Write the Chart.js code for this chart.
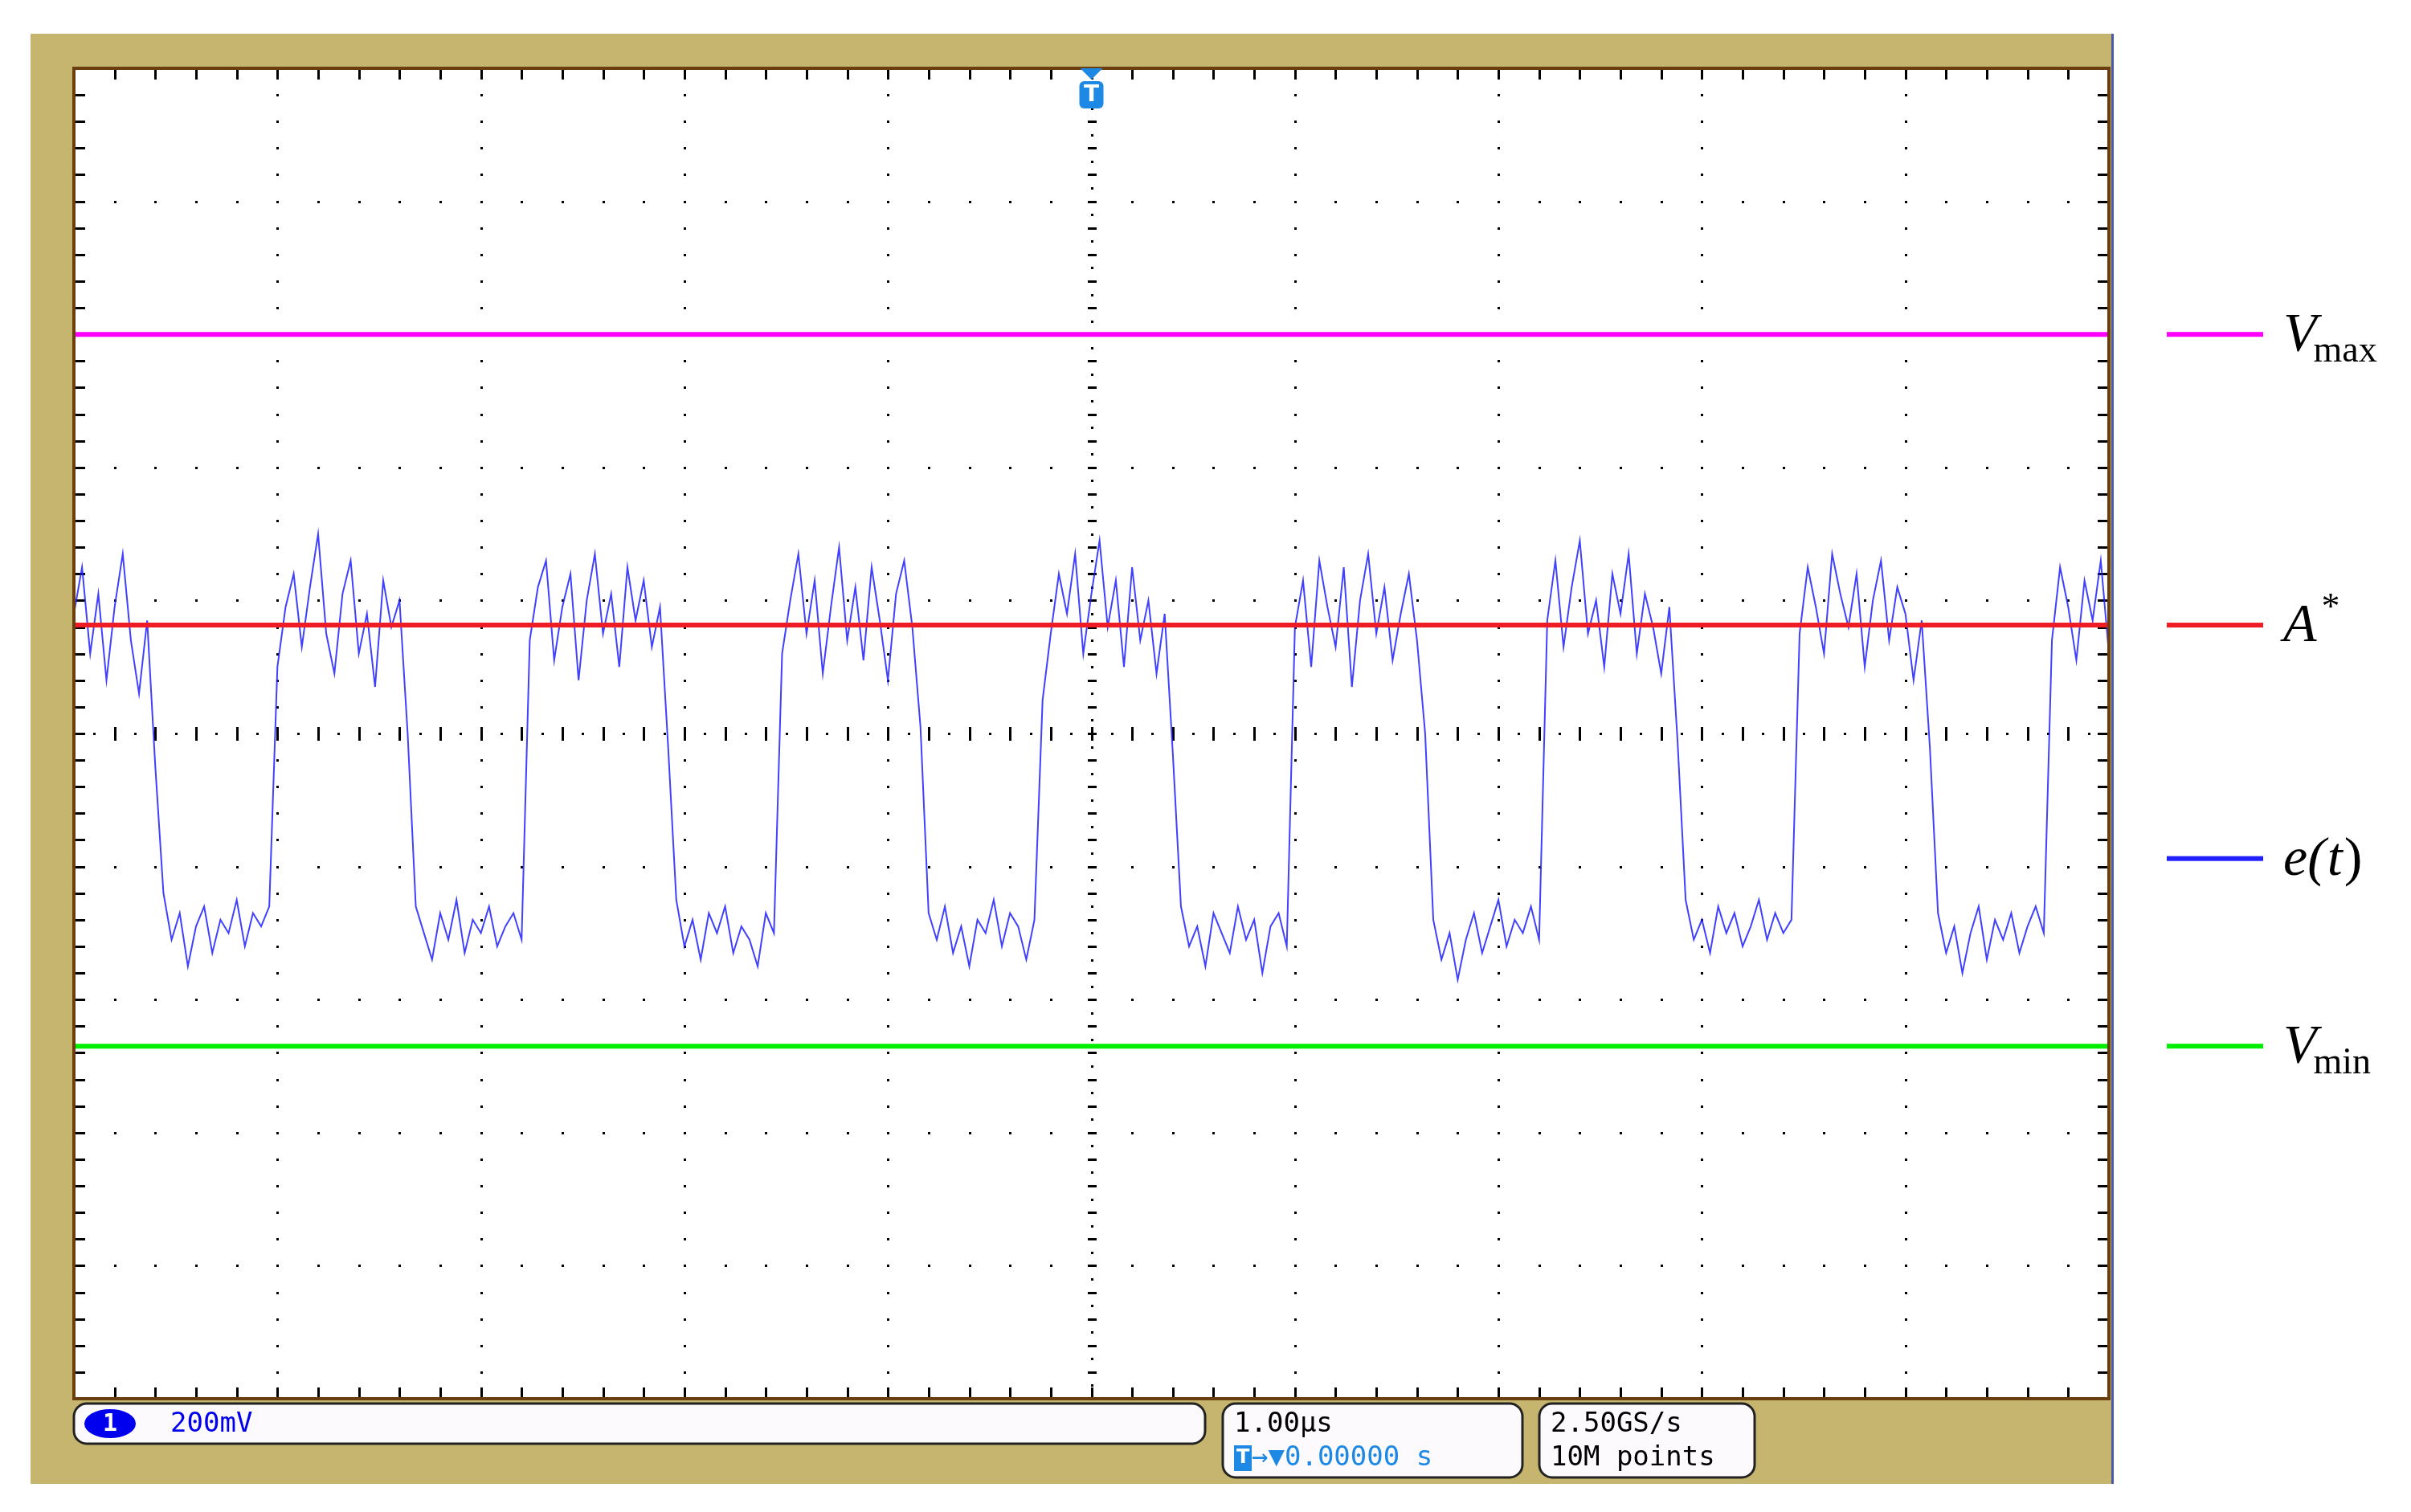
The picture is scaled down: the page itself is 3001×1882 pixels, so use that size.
<!DOCTYPE html>
<html>
<head>
<meta charset="utf-8">
<script src="https://cdn.jsdelivr.net/npm/chart.js@4/dist/chart.umd.min.js"></script>
<style>
  html, body { margin: 0; padding: 0; background: #fff; }
  #wrap { width: 3001px; height: 1882px; }
</style>
</head>
<body>
<div id="wrap"><canvas id="scope"></canvas></div>
<script>
// time axis: 1.00 us/div, 10 divisions, sample step 0.04 us
const tStart = -5
const tStep = 0.04
const timeRange = [-5, 5]
// vertical axis: 200 mV/div, 10 divisions (volts)
const voltRange = [-1, 1]

// e(t) trace (volts)
const traceValues = [
  0.18, 0.25, 0.12, 0.21, 0.08, 0.19, 0.27, 0.14, 0.06, 0.17,
  -0.05,
  -0.24, -0.31, -0.27, -0.35, -0.29, -0.26, -0.33, -0.28, -0.30, -0.25, -0.32, -0.27, -0.29, -0.26,
  0.10, 0.19, 0.24, 0.13, 0.22, 0.30, 0.15, 0.09, 0.21, 0.26, 0.12, 0.18, 0.07, 0.23, 0.16, 0.20,
  0.00,
  -0.26, -0.30, -0.34, -0.27, -0.31, -0.25, -0.33, -0.28, -0.30, -0.26, -0.32, -0.29, -0.27, -0.31,
  0.14, 0.22, 0.26, 0.11, 0.19, 0.24, 0.08, 0.20, 0.27, 0.15, 0.21, 0.10, 0.25, 0.17, 0.23, 0.13, 0.19,
  -0.02,
  -0.25, -0.32, -0.28, -0.34, -0.27, -0.30, -0.26, -0.33, -0.29, -0.31, -0.35, -0.27, -0.30,
  0.12, 0.20, 0.27, 0.15, 0.23, 0.09, 0.19, 0.28, 0.14, 0.22, 0.11, 0.25, 0.17, 0.08, 0.21, 0.26, 0.16,
  0.01,
  -0.27, -0.31, -0.26, -0.33, -0.29, -0.35, -0.28, -0.30, -0.25, -0.32, -0.27, -0.29, -0.34, -0.28,
  0.05, 0.15, 0.24, 0.18, 0.27, 0.12, 0.21, 0.29, 0.16, 0.23, 0.10, 0.25, 0.14, 0.20, 0.09, 0.18,
  -0.03,
  -0.26, -0.32, -0.29, -0.35, -0.27, -0.30, -0.33, -0.26, -0.31, -0.28, -0.36, -0.29, -0.27, -0.32,
  0.16, 0.23, 0.10, 0.26, 0.19, 0.13, 0.25, 0.07, 0.20, 0.27, 0.15, 0.22, 0.11, 0.18, 0.24, 0.14,
  0.00,
  -0.28, -0.34, -0.30, -0.37, -0.31, -0.27, -0.33, -0.29, -0.25, -0.32, -0.28, -0.30, -0.26, -0.31,
  0.17, 0.26, 0.13, 0.22, 0.29, 0.15, 0.20, 0.10, 0.24, 0.18, 0.27, 0.12, 0.21, 0.16, 0.09, 0.19,
  -0.01,
  -0.25, -0.31, -0.28, -0.33, -0.26, -0.30, -0.27, -0.32, -0.29, -0.25, -0.31, -0.27, -0.30, -0.28,
  0.15, 0.25, 0.19, 0.12, 0.27, 0.21, 0.16, 0.24, 0.10, 0.20, 0.26, 0.14, 0.22, 0.18, 0.08, 0.17,
  -0.02,
  -0.27, -0.33, -0.29, -0.36, -0.30, -0.26, -0.34, -0.28, -0.31, -0.27, -0.33, -0.29, -0.26, -0.30,
  0.14, 0.25, 0.19, 0.11, 0.23, 0.17, 0.26, 0.12
]

// reference levels (volts)
const levelNames = ['Vmax', 'A*', 'Vmin']
const levelValues = [0.6, 0.163, -0.47]
const levelColors = ['#ff00ff', '#ee1c25', '#00ee00']
const traceColor = '#1f1fff'
const traceLegendValue = -0.188

const tracePoints = traceValues.map((v, i) => ({ x: +(tStart + i * tStep).toFixed(2), y: v }))

const levelSets = levelNames.map((name, i) => ({
  label: name,
  data: [{ x: timeRange[0], y: levelValues[i] }, { x: timeRange[1], y: levelValues[i] }],
  borderColor: levelColors[i],
  borderWidth: 6,
  pointRadius: 0,
  order: 1
}))

const scopeDecor = {
  id: 'scopeDecor',
  beforeDraw (chart) {
    const { ctx } = chart
    const a = chart.chartArea
    ctx.save()
    ctx.fillStyle = '#fff'
    ctx.fillRect(0, 0, chart.width, chart.height)
    ctx.fillStyle = '#c6b56e'
    ctx.fillRect(38, 42, a.right + 4 - 38, 1847 - 42)
    ctx.fillStyle = '#fff'
    ctx.fillRect(a.left, a.top, a.right - a.left, a.bottom - a.top)
    ctx.restore()
  },
  beforeDatasetsDraw (chart) {
    const { ctx, chartArea: a } = chart
    const xs = chart.scales.x
    const ys = chart.scales.y
    ctx.save()
    ctx.fillStyle = '#000'
    // dotted graticule
    for (let k = -5; k <= 5; k++) {
      const px = Math.round(xs.getPixelForValue(k))
      for (let m = -50; m <= 50; m++) {
        if (m % 2 !== 0 && k !== 0) continue
        const py = ys.getPixelForValue(m * 0.02)
        ctx.fillRect(px - 1, Math.round(py) - 1, 3, 3)
      }
    }
    for (let k = -5; k <= 5; k++) {
      const py = Math.round(ys.getPixelForValue(k * 0.2))
      for (let m = -50; m <= 50; m++) {
        if (m % 2 !== 0 && k !== 0) continue
        const px = xs.getPixelForValue(m * 0.1)
        ctx.fillRect(Math.round(px) - 1, py - 1, 3, 3)
      }
    }
    // center cross ticks and edge ticks
    const cx = Math.round(xs.getPixelForValue(0))
    const cy = Math.round(ys.getPixelForValue(0))
    for (let m = -25; m <= 25; m++) {
      const px = Math.round(xs.getPixelForValue(m * 0.2))
      ctx.fillRect(px - 1, cy - 8, 3, 17)
      ctx.fillRect(px - 1, a.bottom - 14, 3, 14)
      ctx.fillRect(px - 1, a.top, 3, 14)
      const py = Math.round(ys.getPixelForValue(m * 0.04))
      ctx.fillRect(cx - 5, py - 1, 4, 3)
      ctx.fillRect(cx + 2, py - 1, 4, 3)
      ctx.fillRect(a.left, py - 1, 14, 3)
      ctx.fillRect(a.right - 14, py - 1, 14, 3)
    }
    ctx.restore()
  },
  afterDraw (chart) {
    const { ctx, chartArea: a } = chart
    const ys = chart.scales.y
    const xs = chart.scales.x
    ctx.save()
    // border
    ctx.strokeStyle = '#6b3e10'
    ctx.lineWidth = 4
    ctx.strokeRect(a.left, a.top, a.right - a.left, a.bottom - a.top)
    ctx.fillStyle = '#4a5aa8'
    ctx.fillRect(a.right + 3, 42, 3, 1805)

    // trigger marker
    const cx = xs.getPixelForValue(0)
    ctx.fillStyle = '#1e88e5'
    ctx.beginPath()
    ctx.moveTo(cx - 14, a.top)
    ctx.lineTo(cx + 14, a.top)
    ctx.lineTo(cx, a.top + 14)
    ctx.fill()
    ctx.beginPath()
    ctx.roundRect(cx - 15, a.top + 16, 30, 34, 6)
    ctx.fill()
    ctx.fillStyle = '#fff'
    ctx.font = 'bold 28px "DejaVu Sans"'
    ctx.textAlign = 'center'
    ctx.textBaseline = 'middle'
    ctx.fillText('T', cx, a.top + 34)

    // readout boxes
    const box = (x, y, w, h) => {
      ctx.fillStyle = '#fdfafd'
      ctx.strokeStyle = '#222'
      ctx.lineWidth = 3
      ctx.beginPath()
      ctx.roundRect(x, y, w, h, 16)
      ctx.fill()
      ctx.stroke()
    }
    const by = 1747
    box(92, by, 1408, 50)
    box(1522, by, 373, 92)
    box(1916, by, 268, 92)
    ctx.textAlign = 'left'
    ctx.textBaseline = 'middle'
    ctx.fillStyle = '#0000ee'
    ctx.beginPath()
    ctx.ellipse(137, by + 25, 32, 18, 0, 0, Math.PI * 2)
    ctx.fill()
    ctx.fillStyle = '#fff'
    ctx.font = 'bold 30px "DejaVu Sans Mono"'
    ctx.fillText('1', 128, by + 26)
    ctx.fillStyle = '#0000ee'
    ctx.font = '34px "DejaVu Sans Mono"'
    ctx.fillText('200mV', 212, by + 26)
    ctx.fillStyle = '#000'
    ctx.fillText('1.00µs', 1536, by + 26)
    ctx.fillText('2.50GS/s', 1930, by + 26)
    ctx.fillText('10M points', 1930, by + 68)
    ctx.fillStyle = '#1e88e5'
    ctx.fillRect(1536, by + 52, 22, 32)
    ctx.fillText('→▼0.00000 s', 1558, by + 68)
    ctx.fillStyle = '#fff'
    ctx.font = 'bold 24px "DejaVu Sans"'
    ctx.fillText('T', 1539, by + 68)

    // right-hand legend
    const items = [
      { c: levelColors[0], v: levelValues[0], main: 'V', sub: 'max' },
      { c: levelColors[1], v: levelValues[1], main: 'A', sup: '*' },
      { c: traceColor, v: traceLegendValue, main: 'e(t)' },
      { c: levelColors[2], v: levelValues[2], main: 'V', sub: 'min' }
    ]
    items.forEach(it => {
      const py = ys.getPixelForValue(it.v)
      ctx.fillStyle = it.c
      ctx.fillRect(2697, py - 3, 120, 6)
      ctx.fillStyle = '#000'
      ctx.textBaseline = 'alphabetic'
      ctx.font = 'italic 68px "Liberation Serif"'
      const x0 = 2842
      if (it.main === 'e(t)') {
        ctx.fillText('e(', x0, py + 20)
        let w = ctx.measureText('e(').width
        ctx.fillText('t', x0 + w + 2, py + 20)
        w += ctx.measureText('t').width + 4
        ctx.font = '68px "Liberation Serif"'
        ctx.fillText(')', x0 + w, py + 20)
        return
      }
      ctx.fillText(it.main, x0, py + 20)
      const w = ctx.measureText(it.main).width
      if (it.sub) {
        ctx.font = '46px "Liberation Serif"'
        ctx.fillText(it.sub, x0 + w - 4, py + 34)
      }
      if (it.sup) {
        ctx.font = '46px "Liberation Serif"'
        ctx.fillText(it.sup, x0 + w + 6, py - 8)
      }
    })
    ctx.restore()
  }
}

const chart = new Chart(document.querySelector('#scope'), {
  type: 'line',
  data: {
    datasets: [
      ...levelSets,
      {
        label: 'e(t)',
        data: tracePoints,
        borderColor: 'rgba(31,31,255,0.85)',
        borderWidth: 2,
        pointRadius: 0,
        tension: 0,
        order: 2
      }
    ]
  },
  options: {
    responsive: true,
    maintainAspectRatio: false,
    animation: false,
    devicePixelRatio: 1,
    layout: { padding: { left: 92, top: 85, right: 376, bottom: 141 } },
    plugins: { legend: { display: false }, tooltip: { enabled: false } },
    scales: {
      x: { type: 'linear', min: timeRange[0], max: timeRange[1], display: false },
      y: { type: 'linear', min: voltRange[0], max: voltRange[1], display: false }
    }
  },
  plugins: [scopeDecor]
})
</script>
</body>
</html>
